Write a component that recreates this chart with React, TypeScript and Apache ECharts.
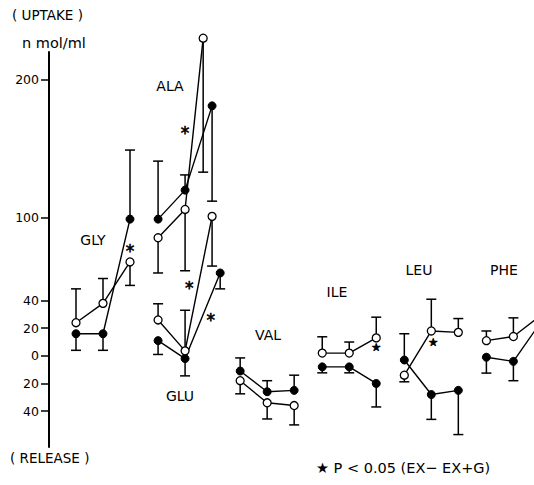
import React, { useEffect, useRef } from "react";
import * as echarts from "echarts";

// ---- data ----
const groups = ["GLY", "ALA", "GLU", "VAL", "ILE", "LEU", "PHE"];
const groupSlot = [0, 1, 1, 2, 3, 4, 5];
const timePoints = [0, 1, 2];

// EX (filled circles): means and signed error-bar lengths (+ up, - down)
const exMean = [
  [16, 16, 99],
  [99, 120, 181],
  [11, -2, 60],
  [-11, -26, -25],
  [-8, -8, -20],
  [-3, -28, -25],
  [-1, -4, 24],
];
const exErr = [
  [-12, -12, 50],
  [42, 11, -69],
  [-10, -12.5, -11.5],
  [9.5, 8, 11],
  [-4.3, -4.3, -17],
  [19, -18, -32],
  [-11.5, -14, 0],
];

// EX+G (open circles)
const exgMean = [
  [24, 38, 68],
  [85.5, 106, 230],
  [26, 3.6, 101],
  [-18, -34, -36],
  [2, 2, 13],
  [-14, 18, 17],
  [11, 14, 29],
];
const exgErr = [
  [24.5, 18, -17],
  [-25.5, -44.4, -97],
  [11.7, 29.4, -36],
  [-9.5, -11.7, -14],
  [11.8, 8, 15],
  [-4.8, 23, 10],
  [7, 13.5, 0],
];

const yTicks = [200, 100, 40, 20, 0, -20, -40];

// significance marks: group index, time position, value, glyph
const sigGroup = [0, 1, 2, 2, 4, 5];
const sigTime = [2, 1, 1.15, 1.95, 2, 1.07];
const sigValue = [76, 161, 49, 26, 6, 9.5];
const sigGlyph = ["*", "*", "*", "*", "★", "★"];

// ---- layout constants ----
const GROUP_STEP = 3.04;
const nudgeEx: Record<string, number> = { "2-2": 0.3 };
const nudgeExg: Record<string, number> = { "1-2": -0.33 };
const FONT = "DejaVu Sans, Arial, sans-serif";

function xOf(g: number, t: number, nudge?: Record<string, number>) {
  const n = nudge ? nudge[g + "-" + t] || 0 : 0;
  return groupSlot[g] * GROUP_STEP + timePoints[t] + n;
}

export default function App() {
  const ref = useRef<HTMLDivElement>(null);
  useEffect(() => {
    if (!ref.current) return;
    const chart = echarts.init(ref.current, null, { renderer: "svg" });
    const series: any[] = [];
    const errData: any[] = [];

    groups.forEach((name, g) => {
      const exPts = timePoints.map((_, t) => [xOf(g, t, nudgeEx), exMean[g][t]]);
      const exgPts = timePoints.map((_, t) => [xOf(g, t, nudgeExg), exgMean[g][t]]);
      timePoints.forEach((_, t) => {
        errData.push([exPts[t][0], exPts[t][1], exErr[g][t]]);
        errData.push([exgPts[t][0], exgPts[t][1], exgErr[g][t]]);
      });
      series.push({
        type: "line",
        name: name + " EX",
        data: exPts,
        symbol: "circle",
        symbolSize: 8,
        clip: false,
        z: 3,
        lineStyle: { color: "#000", width: 1.4 },
        itemStyle: { color: "#000", borderColor: "#000", borderWidth: 1 },
      });
      series.push({
        type: "line",
        name: name + " EX+G",
        data: exgPts,
        symbol: "circle",
        symbolSize: 8,
        clip: false,
        z: 3,
        lineStyle: { color: "#000", width: 1.4 },
        itemStyle: { color: "#fff", borderColor: "#000", borderWidth: 1.3 },
      });
    });

    series.push({
      type: "custom",
      name: "error",
      data: errData,
      clip: false,
      z: 1,
      renderItem: (params: any, api: any) => {
        const x = api.value(0);
        const y = api.value(1);
        const e = api.value(2);
        if (!e) return { type: "group", children: [] };
        const p0 = api.coord([x, y]);
        const p1 = api.coord([x, y + e]);
        const st = { stroke: "#000", lineWidth: 1.5 };
        return {
          type: "group",
          children: [
            { type: "line", shape: { x1: p0[0], y1: p0[1], x2: p1[0], y2: p1[1] }, style: st },
            { type: "line", shape: { x1: p1[0] - 5, y1: p1[1], x2: p1[0] + 5, y2: p1[1] }, style: st },
          ],
        };
      },
    });

    const sigData = sigGroup.map((g, i) => [groupSlot[g] * GROUP_STEP + sigTime[i], sigValue[i], i]);
    series.push({
      type: "custom",
      name: "sig",
      data: sigData,
      clip: false,
      z: 4,
      renderItem: (params: any, api: any) => {
        const p = api.coord([api.value(0), api.value(1)]);
        const glyph = sigGlyph[params.dataIndex];
        return {
          type: "text",
          x: p[0],
          y: p[1],
          style: {
            text: glyph,
            fill: "#000",
            stroke: "#000",
            lineWidth: 0.6,
            font: `${glyph === "*" ? 17 : 11}px ${FONT}`,
            align: "center",
            verticalAlign: "middle",
          },
        };
      },
    });

    const txt = (text: string, x: number, y: number, size: number, align = "center") => ({
      type: "text",
      x,
      y,
      style: {
        text,
        fill: "#000",
        font: `${size}px ${FONT}`,
        align,
        verticalAlign: "middle",
      },
    });

    chart.setOption({
      animation: false,
      backgroundColor: "#fff",
      grid: { left: 49, right: 0, top: 52, bottom: 38 },
      xAxis: {
        type: "value",
        min: -1,
        max: (534 - 49) / 27 - 1,
        show: false,
      },
      yAxis: {
        type: "value",
        min: -66,
        max: 220,
        axisLine: { show: true, onZero: false, lineStyle: { color: "#000", width: 2 } },
        axisTick: { show: true, customValues: yTicks, length: 8, lineStyle: { color: "#000", width: 1.5 } },
        axisLabel: {
          customValues: yTicks,
          formatter: (v: number) => String(Math.abs(v)),
          color: "#000",
          fontSize: 12.5,
          fontFamily: FONT,
          margin: 10,
        },
        splitLine: { show: false },
      },
      graphic: [
        txt("( UPTAKE )", 12, 15, 13.5, "left"),
        txt("n mol/ml", 22, 43, 14.5, "left"),
        txt("( RELEASE )", 10, 458, 13.5, "left"),
        txt("GLY", 93, 240, 14),
        txt("ALA", 170, 86, 14),
        txt("GLU", 180, 396, 14),
        txt("VAL", 268, 335, 14),
        txt("ILE", 337, 292, 14),
        txt("LEU", 419, 270, 14),
        txt("PHE", 504, 270, 14),
        txt("★ P < 0.05 (EX− EX+G)", 316, 468, 14.5, "left"),
      ],
      series,
    });
    return () => chart.dispose();
  }, []);
  return (
    <div
      ref={ref}
      style={{ position: "fixed", left: 0, top: 0, width: 534, height: 485, background: "#fff" }}
    />
  );
}
